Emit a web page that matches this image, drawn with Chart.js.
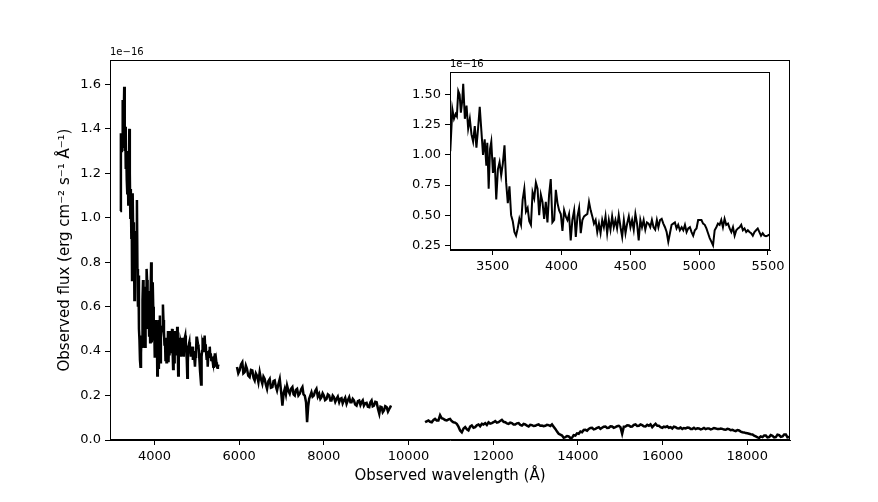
<!DOCTYPE html>
<html><head><meta charset="utf-8">
<script src="https://cdn.jsdelivr.net/npm/chart.js@4.4.1/dist/chart.umd.min.js"></script>
<style>
html,body{margin:0;padding:0;background:#fff;}
#wrap{position:relative;width:878px;height:502px;overflow:hidden;}
#main{position:absolute;left:0;top:0;}
#inset{position:absolute;left:400px;top:50px;}
</style></head><body>
<div id="wrap"><canvas id="main" width="878" height="502"></canvas><canvas id="inset" width="390" height="230"></canvas></div>
<script>
// ---- data (flux in units of 1e-16 erg cm^-2 s^-1 A^-1) ----
const wl1 = [3192,3207,3219,3231,3240,3250,3260,3269,3279,3286,3298,3310,3322,3334,3346,3358,3370,3382,3394,3406,3418,3430,3442,3454,3461,3471,3481,3490,3502,3514,3526,3538,3550,3562,3574,3586,3598,3610,3622,3634,3646,3658,3670,3682,3694,3706,3718,3730,3742,3754,3766,3778,3790,3802,3814,3826,3838,3850,3862,3874,3886,3898,3910,3922,3934,3947,3959,3971,3983,3995,4007,4019,4031,4043,4055,4067,4079,4092,4104,4116,4128,4140,4152,4164,4176,4188,4200,4212,4224,4236,4248,4260,4272,4284,4296,4308,4320,4332,4344,4356,4368,4380,4392,4404,4416,4429,4441,4453,4465,4477,4489,4501,4513,4525,4537,4549,4561,4573,4585,4597,4609,4621,4633,4645,4657,4669,4681,4693,4704,4716,4728,4740,4752,4764,4776,4788,4800,4812,4824,4836,4848,4860,4873,4885,4897,4909,4921,4933,4945,4957,4969,4981,4993,5005,5017,5029,5041,5053,5065,5077,5089,5101,5113,5125,5137,5149,5161,5173,5185,5197,5210,5222,5234,5246,5258,5270,5282,5294,5306,5318,5330,5342,5354,5366,5378,5390,5402,5414,5426,5438,5450,5462,5474,5486,5498,5510];
const fx1 = [1.03,1.38,1.30,1.34,1.32,1.53,1.50,1.35,1.45,1.59,1.30,1.41,1.22,1.30,1.17,1.11,1.24,1.06,1.22,1.40,1.20,1.00,1.13,0.91,1.10,0.72,1.05,1.11,0.85,0.98,0.63,0.88,0.94,0.83,0.93,1.08,0.77,0.60,0.74,0.50,0.45,0.36,0.33,0.39,0.47,0.42,0.63,0.72,0.53,0.56,0.45,0.42,0.69,0.64,0.77,0.72,0.50,0.67,0.61,0.47,0.61,0.44,0.67,0.80,0.44,0.46,0.71,0.60,0.54,0.51,0.37,0.54,0.49,0.46,0.51,0.29,0.46,0.54,0.32,0.49,0.56,0.35,0.46,0.49,0.50,0.51,0.61,0.54,0.49,0.43,0.46,0.36,0.43,0.35,0.46,0.40,0.49,0.35,0.46,0.38,0.49,0.40,0.46,0.39,0.50,0.40,0.32,0.46,0.35,0.43,0.49,0.40,0.46,0.38,0.51,0.43,0.29,0.46,0.40,0.46,0.38,0.44,0.43,0.40,0.46,0.40,0.38,0.46,0.40,0.46,0.47,0.43,0.40,0.36,0.28,0.35,0.42,0.43,0.44,0.39,0.42,0.375,0.40,0.375,0.42,0.36,0.39,0.40,0.36,0.33,0.375,0.39,0.46,0.46,0.46,0.43,0.42,0.39,0.35,0.31,0.28,0.25,0.375,0.40,0.43,0.42,0.46,0.40,0.47,0.42,0.43,0.39,0.36,0.40,0.33,0.375,0.39,0.40,0.42,0.375,0.39,0.36,0.375,0.36,0.35,0.33,0.36,0.375,0.39,0.36,0.33,0.35,0.33,0.325,0.33,0.34];

const wl2 = [5949,5980,6012,6044,6075,6100,6130,6158,6185,6215,6248,6280,6312,6340,6367,6395,6422,6455,6485,6515,6548,6575,6603,6630,6659,6690,6722,6750,6785,6812,6840,6868,6895,6925,6959,6990,7022,7050,7077,7105,7132,7165,7195,7225,7258,7285,7314,7340,7369,7400,7432,7465,7495,7520,7550,7580,7605,7630,7653,7680,7708,7735,7763,7795,7826,7858,7890,7918,7945,7972,8000,8030,8063,8095,8126,8155,8181,8210,8237,8270,8300,8330,8363,8390,8418,8445,8473,8505,8537,8570,8600,8628,8655,8683,8710,8740,8773,8805,8836,8865,8892,8920,8947,8978,9010,9040,9073,9100,9128,9155,9184,9215,9247,9280,9310,9338,9365,9392,9420,9450,9483,9515,9546,9575,9602];
const fx2 = [0.328,0.300,0.313,0.340,0.350,0.300,0.305,0.335,0.320,0.290,0.283,0.315,0.313,0.280,0.268,0.300,0.290,0.260,0.305,0.275,0.253,0.285,0.275,0.250,0.230,0.265,0.275,0.235,0.238,0.265,0.268,0.240,0.223,0.250,0.275,0.220,0.155,0.210,0.230,0.205,0.245,0.220,0.208,0.230,0.238,0.205,0.200,0.225,0.230,0.200,0.208,0.228,0.238,0.205,0.200,0.170,0.080,0.150,0.185,0.200,0.215,0.195,0.200,0.220,0.230,0.195,0.208,0.185,0.193,0.210,0.200,0.180,0.185,0.205,0.200,0.178,0.178,0.200,0.193,0.172,0.185,0.195,0.170,0.185,0.188,0.165,0.178,0.190,0.163,0.180,0.193,0.170,0.170,0.185,0.178,0.160,0.155,0.175,0.178,0.158,0.170,0.178,0.155,0.165,0.167,0.150,0.148,0.170,0.178,0.152,0.155,0.172,0.170,0.140,0.118,0.150,0.148,0.125,0.133,0.152,0.148,0.128,0.140,0.150,0.148];

const wl3 = [10391,10430,10470,10510,10549,10590,10627,10665,10706,10746,10785,10825,10865,10904,10945,10982,11020,11061,11100,11140,11180,11219,11259,11300,11338,11378,11416,11455,11495,11535,11574,11613,11653,11692,11732,11770,11811,11850,11890,11930,11969,12008,12048,12088,12127,12165,12205,12245,12284,12324,12363,12402,12442,12480,12521,12560,12600,12640,12679,12718,12758,12798,12837,12876,12916,12955,12994,13034,13073,13112,13152,13190,13231,13270,13310,13350,13389,13428,13468,13508,13547,13586,13626,13665,13705,13744,13783,13822,13862,13900,13941,13980,14020,14060,14099,14138,14178,14218,14257,14296,14336,14375,14415,14455,14494,14533,14572,14612,14651,14690,14730,14770,14809,14848,14888,14928,14967,15006,15046,15085,15125,15164,15204,15244,15283,15322,15361,15400,15440,15480,15519,15558,15598,15638,15677,15716,15756,15795,15835,15875,15914,15953,15993,16032,16072,16110,16150,16190,16229,16268,16308,16348,16387,16426,16466,16505,16545,16585,16624,16664,16703,16742,16782,16822,16861,16900,16939,16978,17018,17058,17097,17136,17176,17215,17255,17295,17334,17374,17413,17452,17492,17531,17571,17610,17650,17690,17728,17768,17807,17846,17886,17926,17965,18004,18044,18084,18123,18162,18202,18242,18281,18320,18360,18400,18439,18478,18517,18556,18596,18636,18675,18714,18754,18794,18833,18872,18912,18950,18991];
const fx3 = [0.080,0.084,0.088,0.082,0.080,0.090,0.095,0.088,0.088,0.112,0.098,0.095,0.090,0.088,0.093,0.095,0.085,0.080,0.078,0.073,0.060,0.043,0.035,0.052,0.058,0.048,0.043,0.060,0.065,0.055,0.058,0.066,0.070,0.062,0.073,0.070,0.076,0.068,0.080,0.074,0.076,0.080,0.085,0.078,0.080,0.086,0.091,0.082,0.080,0.075,0.073,0.078,0.076,0.070,0.070,0.075,0.076,0.068,0.065,0.072,0.070,0.064,0.061,0.068,0.067,0.063,0.064,0.068,0.070,0.064,0.065,0.062,0.064,0.068,0.067,0.063,0.070,0.060,0.050,0.038,0.028,0.024,0.020,0.010,0.013,0.018,0.016,0.008,0.010,0.022,0.020,0.030,0.028,0.038,0.035,0.045,0.046,0.042,0.050,0.054,0.055,0.048,0.050,0.055,0.058,0.050,0.055,0.060,0.061,0.054,0.055,0.062,0.061,0.055,0.058,0.062,0.064,0.058,0.028,0.060,0.061,0.066,0.065,0.060,0.061,0.068,0.070,0.063,0.064,0.070,0.067,0.062,0.061,0.068,0.064,0.070,0.058,0.066,0.073,0.064,0.064,0.058,0.055,0.060,0.058,0.062,0.055,0.058,0.052,0.060,0.058,0.053,0.052,0.056,0.050,0.054,0.052,0.056,0.055,0.050,0.050,0.055,0.049,0.053,0.052,0.048,0.050,0.054,0.049,0.052,0.052,0.048,0.050,0.054,0.052,0.049,0.049,0.052,0.050,0.047,0.046,0.050,0.049,0.044,0.046,0.042,0.040,0.045,0.043,0.038,0.035,0.034,0.031,0.030,0.028,0.026,0.025,0.020,0.016,0.012,0.010,0.016,0.013,0.020,0.020,0.012,0.013,0.022,0.019,0.012,0.013,0.024,0.022,0.014,0.016,0.025,0.025,0.012,0.013];

const mainXTicks = [4000,6000,8000,10000,12000,14000,16000,18000];
const mainYTicks = [0.0,0.2,0.4,0.6,0.8,1.0,1.2,1.4,1.6];
const insetXTicks = [3500,4000,4500,5000,5500];
const insetYTicks = [0.25,0.50,0.75,1.00,1.25,1.50];
const xLabel = 'Observed wavelength (Å)';
const yLabel = 'Observed flux (erg cm⁻² s⁻¹ Å⁻¹)';
const offsetText = '1e−16';

// ---- rendering ----
const FONT = '"DejaVu Sans", sans-serif';
const toXY = (w, f) => w.map((x, i) => ({x, y: f[i]}));
const ds = (w, f, bw) => ({data: toXY(w, f), borderColor: '#000', borderWidth: bw, pointRadius: 0, tension: 0, fill: false, borderJoinStyle: 'miter'});

const framePlugin = {
  id: 'frame',
  beforeDraw(chart, args, opts) {
    const {ctx, chartArea: a} = chart;
    if (opts.fillBg) { ctx.save(); ctx.fillStyle = '#fff'; ctx.fillRect(a.left, a.top, a.width, a.height); ctx.restore(); }
  },
  afterDraw(chart, args, opts) {
    const {ctx, chartArea: a} = chart;
    ctx.save();
    ctx.strokeStyle = '#000'; ctx.lineWidth = 1;
    ctx.strokeRect(Math.round(a.left) + 0.5, Math.round(a.top) + 0.5, Math.round(a.width) - 1, Math.round(a.height) - 1);
    ctx.fillStyle = '#000'; ctx.font = '10px ' + FONT; ctx.textBaseline = 'bottom'; ctx.textAlign = 'left';
    ctx.fillText(opts.text, a.left, a.top - 3);
    ctx.restore();
  }
};

function axis(min, max, ticks, digits, fitKey, fitVal, title) {
  return {
    type: 'linear', min, max,
    afterBuildTicks: s => { s.ticks = ticks.map(v => ({value: v})); },
    afterFit: s => { s[fitKey] = fitVal; },
    grid: {display: true, drawOnChartArea: false, drawTicks: true, tickLength: 5, tickColor: '#000', tickWidth: 1},
    border: {display: true, color: '#000', width: 1},
    ticks: {color: '#000', font: {family: FONT, size: 13}, padding: 4, maxRotation: 0, autoSkip: false,
            callback: v => digits == null ? String(v) : Number(v).toFixed(digits)},
    title: title || {display: false}
  };
}

Chart.defaults.animation = false;

new Chart(document.getElementById('main'), {
  type: 'line',
  data: {datasets: [ds(wl1, fx1, 2.5), ds(wl2, fx2, 2.5), ds(wl3, fx3, 2.5)]},
  options: {
    responsive: false, devicePixelRatio: 1, animation: false,
    layout: {padding: {left: 0, right: 88, top: 60, bottom: 0}},
    plugins: {legend: {display: false}, tooltip: {enabled: false}, frame: {text: offsetText}},
    scales: {
      x: axis(2950, 19010, mainXTicks, null, 'height', 62,
        {display: true, text: xLabel, color: '#000', font: {family: FONT, size: 15}, padding: {top: 0, bottom: 17}}),
      y: axis(0, 1.71, mainYTicks, 1, 'width', 110,
        {display: true, text: yLabel, color: '#000', font: {family: FONT, size: 15}, padding: {top: 56, bottom: 0}})
    }
  },
  plugins: [framePlugin]
});

new Chart(document.getElementById('inset'), {
  type: 'line',
  data: {datasets: [ds(wl1, fx1, 2)]},
  options: {
    responsive: false, devicePixelRatio: 1, animation: false,
    layout: {padding: {left: 0, right: 20, top: 22, bottom: 0}},
    plugins: {legend: {display: false}, tooltip: {enabled: false}, frame: {text: offsetText, fillBg: true}},
    scales: {
      x: axis(3190, 5515, insetXTicks, null, 'height', 30),
      y: axis(0.211, 1.688, insetYTicks, 2, 'width', 50)
    }
  },
  plugins: [framePlugin]
});
</script>
</body></html>
